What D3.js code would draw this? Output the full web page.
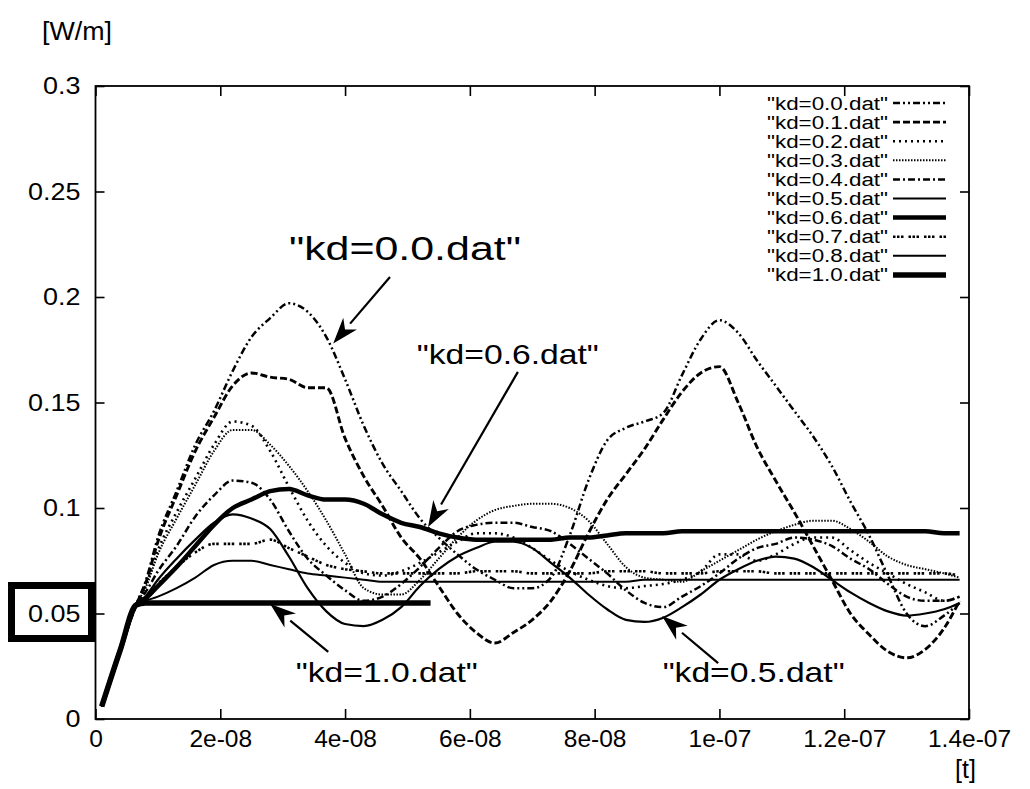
<!DOCTYPE html>
<html>
<head>
<meta charset="utf-8">
<script src="https://cdn.jsdelivr.net/npm/d3@7"></script>
<style>
  body { margin: 0; background: #fff; }
  text { font-family: "Liberation Sans", Arial, Helvetica, sans-serif; fill: #000; }
</style>
</head>
<body>
<svg id="chart" width="1030" height="789"></svg>
<script>
// time samples in ns
const timeNs = [1, 4, 6.5, 8, 10, 13, 16, 19, 22, 25, 28, 31, 34, 37, 40, 43, 46, 49, 52, 55, 58, 61, 64, 67, 70, 73, 76, 79, 82, 85, 88, 91, 94, 97, 100, 103, 106, 109, 112, 115, 118, 121, 124, 127, 130, 133, 136, 138.5]

const kd00 = [0.006, 0.033, 0.054, 0.065, 0.086, 0.108, 0.130, 0.146, 0.165, 0.181, 0.190, 0.197, 0.193, 0.181, 0.161, 0.139, 0.121, 0.108, 0.095, 0.086, 0.078, 0.071, 0.066, 0.062, 0.062, 0.067, 0.087, 0.113, 0.132, 0.138, 0.141, 0.145, 0.163, 0.180, 0.189, 0.183, 0.170, 0.158, 0.146, 0.134, 0.120, 0.103, 0.087, 0.068, 0.050, 0.044, 0.049, 0.055]
const kd01 = [0.006, 0.033, 0.054, 0.064, 0.084, 0.106, 0.127, 0.143, 0.158, 0.164, 0.162, 0.161, 0.157, 0.157, 0.133, 0.115, 0.101, 0.086, 0.076, 0.063, 0.050, 0.041, 0.036, 0.041, 0.047, 0.056, 0.070, 0.088, 0.104, 0.116, 0.128, 0.142, 0.155, 0.164, 0.167, 0.150, 0.129, 0.113, 0.098, 0.082, 0.066, 0.050, 0.040, 0.032, 0.029, 0.033, 0.043, 0.056]
const kd02 = [0.006, 0.033, 0.054, 0.063, 0.080, 0.098, 0.114, 0.130, 0.141, 0.139, 0.127, 0.110, 0.094, 0.082, 0.074, 0.069, 0.068, 0.070, 0.074, 0.079, 0.084, 0.088, 0.088, 0.086, 0.081, 0.075, 0.070, 0.066, 0.063, 0.062, 0.063, 0.064, 0.066, 0.070, 0.078, 0.078, 0.075, 0.078, 0.083, 0.086, 0.086, 0.080, 0.074, 0.069, 0.064, 0.060, 0.056, 0.058]
const kd03 = [0.006, 0.033, 0.054, 0.062, 0.078, 0.095, 0.111, 0.127, 0.137, 0.137, 0.130, 0.120, 0.108, 0.094, 0.078, 0.062, 0.059, 0.059, 0.066, 0.076, 0.086, 0.094, 0.099, 0.101, 0.102, 0.102, 0.100, 0.094, 0.083, 0.072, 0.067, 0.066, 0.065, 0.070, 0.075, 0.080, 0.085, 0.089, 0.092, 0.094, 0.094, 0.090, 0.084, 0.077, 0.073, 0.071, 0.069, 0.067]
const kd04 = [0.006, 0.033, 0.054, 0.060, 0.070, 0.082, 0.096, 0.106, 0.113, 0.112, 0.104, 0.089, 0.076, 0.068, 0.061, 0.056, 0.058, 0.064, 0.072, 0.081, 0.089, 0.092, 0.093, 0.093, 0.091, 0.089, 0.083, 0.076, 0.069, 0.061, 0.055, 0.053, 0.058, 0.063, 0.069, 0.076, 0.081, 0.083, 0.086, 0.085, 0.082, 0.076, 0.071, 0.064, 0.058, 0.056, 0.056, 0.058]
const kd05 = [0.006, 0.033, 0.054, 0.058, 0.066, 0.076, 0.085, 0.093, 0.097, 0.095, 0.090, 0.077, 0.062, 0.051, 0.045, 0.044, 0.047, 0.053, 0.063, 0.071, 0.077, 0.081, 0.084, 0.084, 0.081, 0.074, 0.067, 0.059, 0.052, 0.047, 0.046, 0.048, 0.053, 0.059, 0.066, 0.071, 0.075, 0.077, 0.076, 0.072, 0.066, 0.060, 0.055, 0.051, 0.049, 0.050, 0.052, 0.055]
const kd06 = [0.006, 0.033, 0.054, 0.057, 0.063, 0.072, 0.082, 0.092, 0.100, 0.104, 0.108, 0.109, 0.106, 0.104, 0.104, 0.102, 0.097, 0.093, 0.091, 0.088, 0.086, 0.085, 0.085, 0.085, 0.085, 0.085, 0.086, 0.086, 0.087, 0.088, 0.088, 0.088, 0.089, 0.089, 0.089, 0.089, 0.089, 0.089, 0.089, 0.089, 0.089, 0.089, 0.089, 0.089, 0.089, 0.089, 0.088, 0.088]
const kd07 = [0.006, 0.033, 0.054, 0.058, 0.064, 0.072, 0.079, 0.083, 0.083, 0.083, 0.085, 0.081, 0.077, 0.073, 0.071, 0.070, 0.069, 0.069, 0.069, 0.069, 0.069, 0.070, 0.070, 0.070, 0.069, 0.069, 0.069, 0.069, 0.070, 0.070, 0.070, 0.069, 0.069, 0.069, 0.070, 0.070, 0.070, 0.069, 0.069, 0.069, 0.069, 0.069, 0.069, 0.069, 0.069, 0.069, 0.069, 0.068]
const kd08 = [0.006, 0.033, 0.054, 0.056, 0.058, 0.062, 0.067, 0.073, 0.075, 0.075, 0.073, 0.071, 0.069, 0.068, 0.067, 0.066, 0.065, 0.065, 0.065, 0.065, 0.065, 0.065, 0.065, 0.065, 0.065, 0.065, 0.065, 0.065, 0.065, 0.065, 0.066, 0.066, 0.066, 0.066, 0.066, 0.066, 0.066, 0.066, 0.066, 0.066, 0.066, 0.066, 0.066, 0.066, 0.066, 0.066, 0.066, 0.066]
// kd=1.0 stops early
const timeNs10 = [1, 4, 6.5, 8, 53.7]
const kd10 = [0.006, 0.033, 0.054, 0.055, 0.055]

const seriesNames = ['"kd=0.0.dat"', '"kd=0.1.dat"', '"kd=0.2.dat"', '"kd=0.3.dat"', '"kd=0.4.dat"',
  '"kd=0.5.dat"', '"kd=0.6.dat"', '"kd=0.7.dat"', '"kd=0.8.dat"', '"kd=1.0.dat"']

const xTicks = [0, 2e-8, 4e-8, 6e-8, 8e-8, 1e-7, 1.2e-7, 1.4e-7]
const xTickLabels = ['0', '2e-08', '4e-08', '6e-08', '8e-08', '1e-07', '1.2e-07', '1.4e-07']
const yTicks = [0, 0.05, 0.1, 0.15, 0.2, 0.25, 0.3]
const yTickLabels = ['0', '0.05', '0.1', '0.15', '0.2', '0.25', '0.3']

// annotations: label, text anchor point and arrow (tail -> tip), all in data units (ns, W/m)
const notes = [
  { label: '"kd=0.0.dat"', tx: 31.0, ty: 0.2175, big: true, tail: [47.2, 0.2095], tip: [38.1, 0.178] },
  { label: '"kd=0.6.dat"', tx: 51.5, ty: 0.1682, big: false, tail: [67.7, 0.1645], tip: [53.3, 0.091] },
  { label: '"kd=1.0.dat"', tx: 32.1, ty: 0.0175, big: false, tail: [37.3, 0.0318], tip: [28.0, 0.0545] },
  { label: '"kd=0.5.dat"', tx: 90.9, ty: 0.0175, big: false, tail: [99.8, 0.0265], tip: [90.8, 0.0488] }
]

// line styles per series
const styles = [
  { w: 2.5, dash: '7,3,2,3,2,3' },
  { w: 2.9, dash: '7,3' },
  { w: 2.6, dash: '2,4' },
  { w: 2, dash: '1.5,1.5' },
  { w: 2.5, dash: '7,3,2,3' },
  { w: 2.2, dash: null },
  { w: 4.5, dash: null },
  { w: 2.6, dash: '2.5,1.5,2.5,1.5,2.5,5' },
  { w: 2, dash: null },
  { w: 5.5, dash: null }
]

const svg = d3.select('#chart')
const plotLeft = 95.5, plotRight = 969, plotTop = 86, plotBottom = 719

const x = d3.scaleLinear().domain([0, 1.4e-7]).range([plotLeft, plotRight])
const y = d3.scaleLinear().domain([0, 0.3]).range([plotBottom, plotTop])

function stretch(sel, k) {
  sel.each(function () {
    const len = this.getComputedTextLength()
    d3.select(this).attr('textLength', len * k).attr('lengthAdjust', 'spacingAndGlyphs')
  })
}

// series data
const allValues = [kd00, kd01, kd02, kd03, kd04, kd05, kd06, kd07, kd08]
const series = allValues.map((vals, i) => ({
  name: seriesNames[i],
  points: vals.map((v, j) => [timeNs[j] * 1e-9, v])
}))
series.push({ name: seriesNames[9], points: kd10.map((v, j) => [timeNs10[j] * 1e-9, v]) })

const line = d3.line()
  .x(d => x(d[0]))
  .y(d => y(d[1]))
  .curve(d3.curveMonotoneX)

svg.append('g')
  .selectAll('path')
  .data(series)
  .enter().append('path')
  .attr('d', d => line(d.points))
  .attr('fill', 'none')
  .attr('stroke', '#000')
  .attr('stroke-width', (d, i) => styles[i].w)
  .attr('stroke-dasharray', (d, i) => styles[i].dash)
  .attr('stroke-linejoin', 'round')

// axes, gnuplot style: ticks inward, mirrored
let yAxis = svg.append('g')
  .attr('transform', `translate(${plotLeft},0)`)
  .call(d3.axisLeft(y).tickValues(yTicks).tickFormat((d, i) => yTickLabels[i]).tickSize(-9).tickSizeOuter(0).tickPadding(15))
svg.append('g')
  .attr('transform', `translate(${plotRight},0)`)
  .call(d3.axisRight(y).tickValues(yTicks).tickFormat('').tickSize(-9).tickSizeOuter(0))
let xAxis = svg.append('g')
  .attr('transform', `translate(0,${plotBottom})`)
  .call(d3.axisBottom(x).tickValues(xTicks).tickFormat((d, i) => xTickLabels[i]).tickSize(-10).tickSizeOuter(0).tickPadding(11))
svg.append('g')
  .attr('transform', `translate(0,${plotTop})`)
  .call(d3.axisTop(x).tickValues(xTicks).tickFormat('').tickSize(-10).tickSizeOuter(0))

svg.selectAll('.domain').remove()
svg.selectAll('.tick line').attr('stroke', '#000').attr('stroke-width', 1.6)
svg.selectAll('.tick text')
  .style('font-family', '"Liberation Sans", Arial, sans-serif')
  .attr('font-size', 24.5)
  .attr('fill', '#000')
stretch(yAxis.selectAll('.tick text'), 1.1)

svg.append('rect')
  .attr('x', plotLeft).attr('y', plotTop)
  .attr('width', plotRight - plotLeft).attr('height', plotBottom - plotTop)
  .attr('fill', 'none').attr('stroke', '#000').attr('stroke-width', 1.8)

// box around 0.05
svg.append('rect')
  .attr('x', 11.5).attr('y', y(0.05) - 28)
  .attr('width', 80).attr('height', 53)
  .attr('fill', 'none').attr('stroke', '#000').attr('stroke-width', 7)

// axis titles
svg.append('text').attr('x', 42).attr('y', 40).attr('font-size', 25)
  .attr('textLength', 70).attr('lengthAdjust', 'spacingAndGlyphs').text('[W/m]')
svg.append('text').attr('x', 955).attr('y', 778).attr('font-size', 25).text('[t]')

// legend
const legend = svg.append('g')
series.forEach((s, i) => {
  const yy = 103 + i * 19.1
  legend.append('text')
    .attr('x', 767).attr('y', yy + 6.5)
    .attr('font-size', 18)
    .attr('textLength', 121).attr('lengthAdjust', 'spacingAndGlyphs')
    .text(s.name)
  legend.append('line')
    .attr('x1', 893).attr('x2', 946).attr('y1', yy).attr('y2', yy)
    .attr('stroke', '#000')
    .attr('stroke-width', styles[i].w)
    .attr('stroke-dasharray', styles[i].dash)
})

// annotations with arrows
const ann = svg.append('g')
notes.forEach(n => {
  ann.append('text')
    .attr('x', x(n.tx * 1e-9)).attr('y', y(n.ty))
    .attr('font-size', n.big ? 34 : 28)
    .attr('textLength', n.big ? 232 : 182).attr('lengthAdjust', 'spacingAndGlyphs')
    .text(n.label)
  const x1 = x(n.tail[0] * 1e-9), y1 = y(n.tail[1])
  const x2 = x(n.tip[0] * 1e-9), y2 = y(n.tip[1])
  const ang = Math.atan2(y2 - y1, x2 - x1)
  const hl = 26, hw = 9
  const bx = x2 - hl * Math.cos(ang), by = y2 - hl * Math.sin(ang)
  ann.append('line')
    .attr('x1', x1).attr('y1', y1).attr('x2', bx).attr('y2', by)
    .attr('stroke', '#000').attr('stroke-width', 2.2)
  const px = -Math.sin(ang) * hw, py = Math.cos(ang) * hw
  ann.append('path')
    .attr('d', `M${x2},${y2}L${bx + px},${by + py}L${bx + 0.3 * hl * Math.cos(ang)},${by + 0.3 * hl * Math.sin(ang)}L${bx - px},${by - py}Z`)
    .attr('fill', '#000')
})
</script>
</body>
</html>
